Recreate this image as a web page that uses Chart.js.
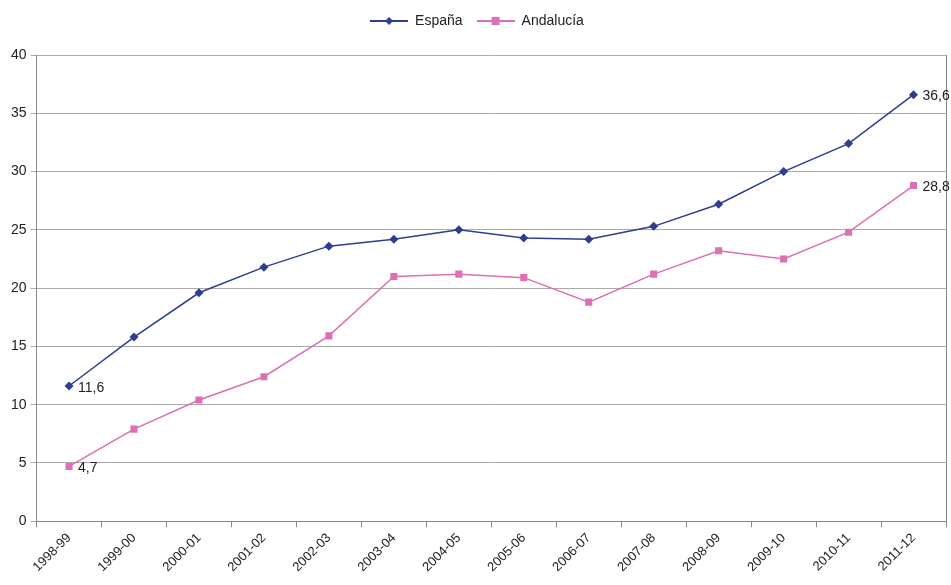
<!DOCTYPE html>
<html>
<head>
<meta charset="utf-8">
<script src="https://cdn.jsdelivr.net/npm/chart.js@4.4.0/dist/chart.umd.min.js"></script>
<style>
  html, body { margin: 0; padding: 0; background: #fff; }
  #wrap { width: 951px; height: 585px; }
</style>
</head>
<body>
<div id="wrap"><canvas id="chart"></canvas></div>
<script>
// Chart data
const categories = ['1998-99', '1999-00', '2000-01', '2001-02', '2002-03', '2003-04', '2004-05',
                    '2005-06', '2006-07', '2007-08', '2008-09', '2009-10', '2010-11', '2011-12'];
const espana    = [11.6, 15.8, 19.6, 21.8, 23.6, 24.2, 25.0, 24.3, 24.2, 25.3, 27.2, 30.0, 32.4, 36.6];
const andalucia = [4.7, 7.9, 10.4, 12.4, 15.9, 21.0, 21.2, 20.9, 18.8, 21.2, 23.2, 22.5, 24.8, 28.8];
const yTicks    = [0, 5, 10, 15, 20, 25, 30, 35, 40];

const blue = '#2e3d91';
const pink = '#dd6fb5';

// Legend swatch: short line with the marker in the middle
function legendSwatch(color, style) {
    const c = document.createElement('canvas');
    c.width = 38; c.height = 12;
    const ctx = c.getContext('2d');
    ctx.strokeStyle = color;
    ctx.lineWidth = 2;
    ctx.beginPath();
    ctx.moveTo(0, 6); ctx.lineTo(38, 6);
    ctx.stroke();
    ctx.fillStyle = color;
    if (style === 'diamond') {
        ctx.beginPath();
        ctx.moveTo(19, 2); ctx.lineTo(23, 6); ctx.lineTo(19, 10); ctx.lineTo(15, 6);
        ctx.closePath();
        ctx.fill();
    } else {
        ctx.fillRect(15, 2, 8, 8);
    }
    return c;
}

// First / last value labels
const endLabels = {
    id: 'endLabels',
    afterDatasetsDraw(chart) {
        const ctx = chart.ctx;
        ctx.save();
        ctx.font = '14px "Liberation Sans", Arial, sans-serif';
        ctx.fillStyle = '#222';
        ctx.textBaseline = 'middle';
        chart.data.datasets.forEach((ds, i) => {
            const meta = chart.getDatasetMeta(i);
            [0, ds.data.length - 1].forEach(idx => {
                const p = meta.data[idx];
                const txt = String(ds.data[idx]).replace('.', ',');
                ctx.fillText(txt, p.x + 9, p.y + 2);
            });
        });
        ctx.restore();
    }
};

// Right frame line
const rightFrame = {
    id: 'rightFrame',
    beforeDatasetsDraw(chart) {
        const a = chart.chartArea;
        const ctx = chart.ctx;
        ctx.save();
        ctx.strokeStyle = '#888';
        ctx.lineWidth = 1;
        ctx.beginPath();
        ctx.moveTo(a.right + 0.5, a.top);
        ctx.lineTo(a.right + 0.5, a.bottom);
        ctx.stroke();
        ctx.restore();
    }
};

// Extra space under the legend
const legendGap = {
    id: 'legendGap',
    beforeInit(chart) {
        const origFit = chart.legend.fit;
        chart.legend.fit = function () {
            origFit.bind(chart.legend)();
            this.height += 17;
        };
    }
};

Chart.defaults.font.family = '"Liberation Sans", Arial, sans-serif';
Chart.defaults.color = '#222';

new Chart(document.getElementById('chart'), {
    type: 'line',
    data: {
        labels: categories,
        datasets: [
            {
                label: 'España',
                data: espana,
                borderColor: blue,
                backgroundColor: blue,
                borderWidth: 1.5,
                pointStyle: 'rectRot',
                pointRadius: 4.5,
                pointBorderWidth: 0,
                tension: 0
            },
            {
                label: 'Andalucía',
                data: andalucia,
                borderColor: pink,
                backgroundColor: pink,
                borderWidth: 1.5,
                pointStyle: 'rect',
                pointRadius: 5,
                pointBorderWidth: 0,
                tension: 0
            }
        ]
    },
    options: {
        responsive: true,
        maintainAspectRatio: false,
        animation: false,
        layout: { padding: { left: 7, right: 4, top: 0, bottom: 7 } },
        plugins: {
            legend: {
                position: 'top',
                labels: {
                    usePointStyle: true,
                    pointStyleWidth: 38,
                    boxHeight: 12,
                    padding: 14,
                    font: { size: 14 },
                    generateLabels(chart) {
                        return chart.data.datasets.map((ds, i) => ({
                            text: ds.label,
                            pointStyle: legendSwatch(ds.borderColor, i === 0 ? 'diamond' : 'square'),
                            fillStyle: ds.borderColor,
                            strokeStyle: ds.borderColor,
                            lineWidth: 0,
                            fontColor: '#222',
                            datasetIndex: i,
                            hidden: false
                        }));
                    }
                }
            },
            tooltip: { enabled: false }
        },
        scales: {
            x: {
                offset: true,
                grid: {
                    display: true,
                    drawOnChartArea: false,
                    drawTicks: true,
                    tickLength: 6,
                    color: '#888',
                    offset: true
                },
                border: { color: '#888' },
                ticks: {
                    autoSkip: false,
                    maxRotation: 45,
                    minRotation: 45,
                    font: { size: 13 },
                    color: '#222'
                }
            },
            y: {
                min: 0,
                max: 40,
                afterBuildTicks(axis) {
                    axis.ticks = yTicks.map(v => ({ value: v }));
                },
                grid: {
                    color: '#aaa',
                    tickLength: 6,
                    drawTicks: true
                },
                border: { color: '#888' },
                ticks: {
                    font: { size: 14 },
                    color: '#222',
                    padding: 4
                }
            }
        }
    },
    plugins: [endLabels, rightFrame, legendGap]
});
</script>
</body>
</html>
